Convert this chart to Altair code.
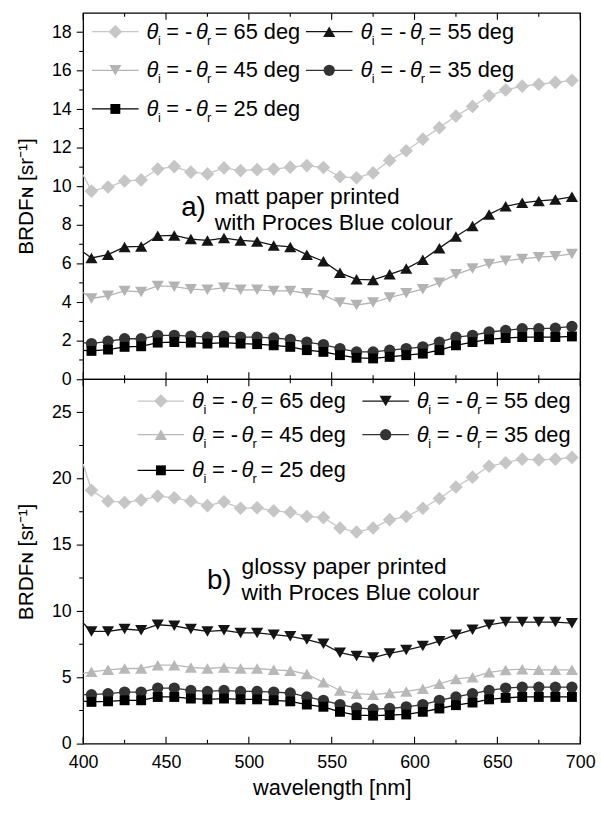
import altair as alt
import pandas as pd

# ---------------- data ----------------
wavelength = [405, 415, 425, 435, 445, 455, 465, 475, 485, 495,
              505, 515, 525, 535, 545, 555, 565, 575, 585, 595,
              605, 615, 625, 635, 645, 655, 665, 675, 685, 695]
angles = ["65", "55", "45", "35", "25"]

# a) matt paper
matt_65 = [9.76, 9.97, 10.28, 10.34, 10.9, 11.03, 10.74, 10.65, 10.96, 10.82,
           10.87, 10.9, 11.0, 11.08, 10.98, 10.5, 10.45, 10.7, 11.35, 11.85,
           12.45, 13.05, 13.65, 14.15, 14.7, 15.0, 15.2, 15.3, 15.4, 15.5]
matt_55 = [6.29, 6.46, 6.86, 6.89, 7.44, 7.46, 7.27, 7.2, 7.32, 7.2,
           7.15, 6.94, 6.86, 6.46, 6.12, 5.52, 5.18, 5.15, 5.44, 5.74,
           6.2, 6.8, 7.4, 7.95, 8.55, 8.97, 9.15, 9.25, 9.32, 9.46]
matt_45 = [4.19, 4.33, 4.58, 4.53, 4.84, 4.8, 4.67, 4.64, 4.75, 4.64,
           4.64, 4.58, 4.58, 4.46, 4.36, 3.98, 3.85, 3.98, 4.24, 4.46,
           4.67, 5.01, 5.44, 5.74, 5.98, 6.15, 6.24, 6.33, 6.38, 6.5]
matt_35 = [1.85, 1.97, 2.1, 2.1, 2.28, 2.28, 2.24, 2.19, 2.24, 2.19,
           2.19, 2.14, 2.07, 1.93, 1.8, 1.59, 1.42, 1.42, 1.51, 1.59,
           1.68, 1.93, 2.19, 2.28, 2.45, 2.53, 2.62, 2.62, 2.65, 2.74]
matt_25 = [1.47, 1.54, 1.68, 1.71, 1.9, 1.93, 1.9, 1.85, 1.9, 1.85,
           1.82, 1.76, 1.68, 1.51, 1.42, 1.25, 1.11, 1.08, 1.16, 1.25,
           1.33, 1.51, 1.76, 1.93, 2.07, 2.14, 2.19, 2.19, 2.19, 2.22]
matt_at_400 = [10.6, 6.6, 4.5, 1.9, 1.5]

# b) glossy paper
glossy_65 = [19.12, 18.3, 18.2, 18.38, 18.68, 18.55, 18.3, 17.96, 18.25, 17.76,
             17.8, 17.56, 17.46, 17.14, 17.06, 16.27, 15.97, 16.27, 16.9, 17.14,
             17.76, 18.5, 19.37, 20.11, 20.93, 21.2, 21.47, 21.42, 21.47, 21.6]
glossy_55 = [8.47, 8.47, 8.65, 8.55, 8.97, 8.89, 8.65, 8.47, 8.55, 8.35,
             8.35, 8.22, 8.1, 7.85, 7.53, 6.86, 6.61, 6.49, 6.81, 7.06,
             7.36, 7.73, 8.22, 8.6, 8.97, 9.17, 9.17, 9.17, 9.17, 9.09]
glossy_45 = [5.42, 5.57, 5.67, 5.67, 5.92, 5.92, 5.75, 5.67, 5.75, 5.67,
             5.67, 5.57, 5.5, 5.25, 4.63, 4.01, 3.77, 3.69, 3.82, 3.94,
             4.14, 4.51, 4.88, 5.0, 5.38, 5.55, 5.62, 5.57, 5.57, 5.57]
glossy_35 = [3.69, 3.77, 3.89, 3.89, 4.19, 4.19, 4.01, 3.94, 4.01, 3.94,
             3.94, 3.89, 3.82, 3.52, 3.27, 2.95, 2.7, 2.6, 2.65, 2.78,
             2.95, 3.27, 3.52, 3.77, 4.01, 4.19, 4.26, 4.26, 4.26, 4.26]
glossy_25 = [3.15, 3.19, 3.27, 3.27, 3.52, 3.52, 3.4, 3.34, 3.4, 3.34,
             3.34, 3.27, 3.19, 2.95, 2.78, 2.4, 2.15, 2.11, 2.15, 2.2,
             2.4, 2.65, 2.9, 3.1, 3.34, 3.45, 3.52, 3.52, 3.52, 3.52]
glossy_at_400 = [21.1, 9.1, 5.3, 3.7, 3.2]

x_major = [400, 450, 500, 550, 600, 650, 700]
x_minor = [425, 475, 525, 575, 625, 675]
matt_y_major = [0, 2, 4, 6, 8, 10, 12, 14, 16, 18]
matt_y_minor = [1, 3, 5, 7, 9, 11, 13, 15, 17]
glossy_y_major = [0, 5, 10, 15, 20, 25]
glossy_y_minor = [2.5, 7.5, 12.5, 17.5, 22.5]

# ---------------- style ----------------
FONT = "Liberation Sans"
W = 502
H_TOP = 370
H_BOT = 368
Y_TITLE = "BRDF\u0274 [sr\u207b\u00b9]"
LEG_FS = 22

one = pd.DataFrame({"k": [0]})


def legend_layers(entries, rows, cols, line_len, text_off):
    out = []
    for (ang, color, shape, size), (r, c) in entries:
        px = cols[c]
        py = rows[r]
        out.append(alt.Chart(one).mark_rule(color=color, strokeWidth=1.3).encode(
            x=alt.value(px), x2=alt.value(px + line_len), y=alt.value(py)))
        out.append(alt.Chart(one).mark_point(shape=shape, filled=True, size=size,
                                              color=color, opacity=1).encode(
            x=alt.value(px + line_len / 2), y=alt.value(py)))
        tx = px + text_off
        pieces = [
            (0, 0, "\u03b8", LEG_FS, "italic"),
            (11.5, 9, "i", 13, "normal"),
            (20, 0, "= -", LEG_FS, "normal"),
            (50, 0, "\u03b8", LEG_FS, "italic"),
            (61, 9, "r", 13, "normal"),
            (69, 0, "= " + ang + " deg", LEG_FS, "normal"),
        ]
        for dx, dy, txt, fs, style in pieces:
            out.append(alt.Chart(one).mark_text(
                align="left", baseline="middle", font=FONT, fontSize=fs,
                fontStyle=style, color="black").encode(
                x=alt.value(tx + dx), y=alt.value(py + dy), text=alt.value(txt)))
    return out


def annotation(letter, lx, lbase, tx, base1, base2, line1, line2):
    out = [alt.Chart(one).mark_text(align="left", baseline="alphabetic", font=FONT,
                                    fontSize=28, color="black").encode(
        x=alt.value(lx), y=alt.value(lbase), text=alt.value(letter))]
    for b, t in [(base1, line1), (base2, line2)]:
        out.append(alt.Chart(one).mark_text(align="left", baseline="alphabetic", font=FONT,
                                            fontSize=23, color="black").encode(
            x=alt.value(tx), y=alt.value(b), text=alt.value(t)))
    return out


def panel(series, at400, styles, ydom, y_major, y_minor, H, show_x, legend, annot):
    xscale = alt.Scale(domain=[400, 700], nice=False, zero=False)
    yscale = alt.Scale(domain=ydom, nice=False, zero=False)
    yaxis = alt.Axis(values=y_major, tickSize=7, tickWidth=1.1, tickColor="black",
                     labelFont=FONT, labelFontSize=18, labelColor="black", labelPadding=5,
                     title=Y_TITLE, titleFont=FONT, titleFontSize=21, titleFontWeight="normal",
                     titleColor="black", titlePadding=15, grid=False, domain=False,
                     labelOverlap=False)
    if show_x:
        xaxis = alt.Axis(values=x_major, ticks=False, labelFont=FONT, labelFontSize=18,
                         labelColor="black", labelPadding=10, title="wavelength [nm]",
                         titleFont=FONT, titleFontSize=22, titleFontWeight="normal",
                         titleColor="black", titlePadding=6, grid=False, domain=False,
                         labelFlush=False)
    else:
        xaxis = alt.Axis(values=x_major, ticks=False, labels=False, title=None,
                         grid=False, domain=False)

    X = lambda: alt.X("wl:Q", scale=xscale, axis=xaxis)
    Y = lambda: alt.Y("v:Q", scale=yscale, axis=yaxis)

    layers = []
    for i, ang in enumerate(angles):
        color, shape, size = styles[i]
        df = pd.DataFrame({"wl": [400] + wavelength, "v": [at400[i]] + series[i]})
        layers.append(alt.Chart(df).mark_line(color=color, strokeWidth=1.3).encode(
            x=X(), y=Y(), order="wl:Q"))
    for i, ang in enumerate(angles):
        color, shape, size = styles[i]
        df = pd.DataFrame({"wl": wavelength, "v": series[i]})
        layers.append(alt.Chart(df).mark_point(shape=shape, filled=True, size=size,
                                               color=color, opacity=1).encode(
            x=X(), y=Y()))

    # inward x ticks (bottom and top frame), outward minor y ticks
    for vals, length in [(x_major, 7), (x_minor, 4)]:
        tdf = pd.DataFrame({"wl": vals})
        layers.append(alt.Chart(tdf).mark_rule(color="black", strokeWidth=1.1).encode(
            x=X(), y=alt.value(H), y2=alt.value(H - length)))
        layers.append(alt.Chart(tdf).mark_rule(color="black", strokeWidth=1.1).encode(
            x=X(), y=alt.value(0), y2=alt.value(length)))
    mdf = pd.DataFrame({"v": y_minor})
    layers.append(alt.Chart(mdf).mark_rule(color="black", strokeWidth=1.1).encode(
        y=Y(), x=alt.value(-4), x2=alt.value(0)))

    layers += legend
    layers += annot
    return alt.layer(*layers).properties(width=W, height=H)


LIGHT = "#c6c6c6"
MID = "#b3b3b3"
matt_styles = [(LIGHT, "diamond", 190), ("#151515", "triangle-up", 150),
               (MID, "triangle-down", 150), ("#333333", "circle", 130),
               ("#000000", "square", 100)]
glossy_styles = [(LIGHT, "diamond", 190), ("#151515", "triangle-down", 150),
                 ("#b8b8b8", "triangle-up", 150), ("#333333", "circle", 130),
                 ("#000000", "square", 100)]

slots = [(0, 0), (0, 1), (1, 0), (1, 1), (2, 0)]

top_legend = legend_layers(
    [((a,) + matt_styles[i], slots[i]) for i, a in enumerate(angles)],
    rows=[19, 58, 97], cols=[9, 225], line_len=47, text_off=55)
bot_legend = legend_layers(
    [((a,) + glossy_styles[i], slots[i]) for i, a in enumerate(angles)],
    rows=[22, 56, 92], cols=[55, 282], line_len=47, text_off=55)

top_annot = annotation("a)", 99, 205, 133, 193, 219,
                       "matt paper printed", "with Proces Blue colour")
bot_annot = annotation("b)", 125, 212, 160, 197, 223,
                       "glossy paper printed", "with Proces Blue colour")

top = panel([matt_65, matt_55, matt_45, matt_35, matt_25], matt_at_400, matt_styles,
            [0, 19], matt_y_major, matt_y_minor, H_TOP, False, top_legend, top_annot)
bottom = panel([glossy_65, glossy_55, glossy_45, glossy_35, glossy_25], glossy_at_400,
               glossy_styles, [0, 27.5], glossy_y_major, glossy_y_minor, H_BOT, True,
               bot_legend, bot_annot)

chart = alt.vconcat(top, bottom, spacing=0, bounds="flush").properties(
    padding={"left": 15, "top": 7, "right": 5, "bottom": 5},
    background="white",
).configure_view(stroke="black", strokeWidth=1.3)

chart.save("out.html", embed_options={"renderer": "svg", "actions": False})
